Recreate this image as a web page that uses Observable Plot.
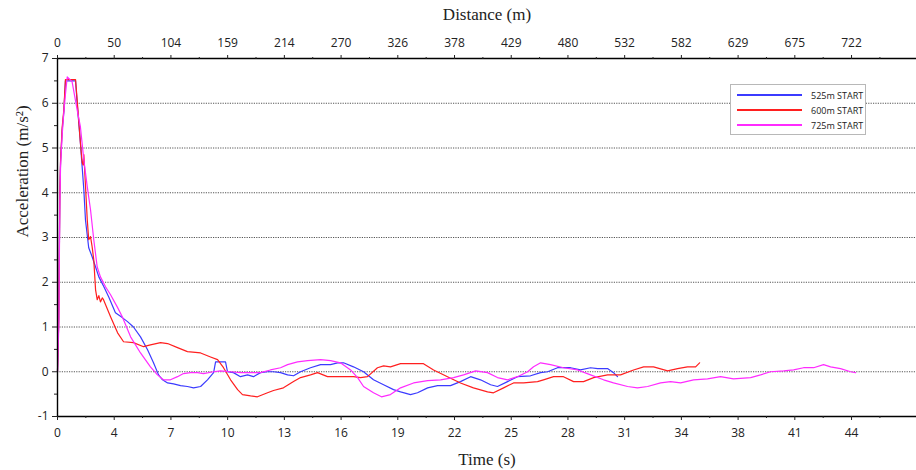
<!DOCTYPE html>
<html>
<head>
<meta charset="utf-8">
<script src="https://cdn.jsdelivr.net/npm/d3@7"></script>
<script src="https://cdn.jsdelivr.net/npm/@observablehq/plot@0.6"></script>
<style>
  html, body { margin: 0; padding: 0; background: #fff; }
  #wrap { position: relative; width: 916px; height: 470px; overflow: hidden; }
  #legend { position: absolute; left: 730px; top: 84px; width: 136px; height: 51px;
    border: 1px solid #b8b8b8; background: #fff; box-sizing: border-box;
    font-family: "Open Sans", "Noto Sans", sans-serif; font-size: 9px; color: #222; }
  .row { position: absolute; left: 6px; height: 12px; display: flex; align-items: center; }
  .sw { width: 65px; height: 0; border-top: 2px solid; margin-right: 9px; }
</style>
</head>
<body>
<div id="wrap"></div>
<script>
// ---- tick labels ----
const timeLabels = ["0","4","7","10","13","16","19","22","25","28","31","34","38","41","44"];
const distanceLabels = ["0","50","104","159","214","270","326","378","429","480","532","582","629","675","722"];
const yTickValues = [-1,0,1,2,3,4,5,6,7];
const seriesNames = ["525m START","600m START","725m START"];
const seriesColors = ["#3b3bff","#ff1f1f","#ff2bff"];

// ---- series: [time (s), acceleration (m/s^2)] ----
const s525 = [
[0,0],[0.07,1.2],[0.13,4.0],[0.17,4.7],[0.26,5.4],[0.35,5.8],[0.44,6.5],[1.00,6.5],[1.09,6.0],[1.27,5.11],
[1.46,4.06],[1.55,3.39],[1.73,2.77],[1.92,2.57],[2.11,2.34],[2.29,2.12],[2.57,1.90],[2.84,1.67],[3.21,1.32],
[3.59,1.21],[3.88,1.12],[4.21,1.00],[4.60,0.78],[4.99,0.49],[5.32,0.20],[5.60,-0.07],[5.82,-0.18],[6.10,-0.25],
[6.43,-0.27],[6.82,-0.31],[7.20,-0.33],[7.54,-0.36],[7.93,-0.33],[8.31,-0.18],[8.65,-0.02],[8.76,0.22],[9.31,0.22],
[9.42,0],[9.75,-0.02],[10.14,-0.11],[10.53,-0.07],[10.86,-0.11],[11.25,-0.02],[11.64,0],[11.97,0],[12.36,-0.02],
[12.75,-0.07],[13.08,-0.09],[13.47,0],[14.02,0.09],[14.58,0.16],[15.13,0.16],[15.52,0.20],[15.85,0.20],[16.40,0.11],
[16.96,0],[17.51,-0.18],[18.07,-0.29],[18.62,-0.40],[19.01,-0.45],[19.56,-0.51],[19.95,-0.47],[20.51,-0.36],
[21.06,-0.31],[21.78,-0.31],[22.33,-0.22],[22.89,-0.11],[23.44,-0.18],[24.00,-0.29],[24.38,-0.33],[24.94,-0.22],
[25.49,-0.11],[26.21,-0.09],[26.77,-0.02],[27.16,0],[27.71,0.09],[28.43,0.09],[28.98,0.04],[29.54,0.09],
[29.93,0.07],[30.48,0.07],[30.81,-0.02],[31.03,-0.11]
];
const s600 = [
[0,0],[0.07,1.16],[0.13,4.0],[0.17,4.73],[0.26,5.47],[0.35,5.85],[0.44,6.53],[1.00,6.53],[1.09,6.07],[1.27,5.11],
[1.37,4.67],[1.42,4.62],[1.46,4.85],[1.65,3.39],[1.73,2.95],[1.83,3.02],[1.92,2.79],[2.01,2.50],[2.11,1.83],
[2.20,1.61],[2.29,1.70],[2.38,1.56],[2.48,1.65],[2.55,1.61],[2.94,1.23],[3.33,0.87],[3.66,0.67],[4.21,0.65],
[4.77,0.56],[5.15,0.60],[5.71,0.65],[6.10,0.63],[6.65,0.54],[7.20,0.45],[7.93,0.42],[8.48,0.33],[8.87,0.27],
[9.20,0.09],[9.59,-0.18],[9.98,-0.40],[10.25,-0.51],[10.70,-0.54],[11.08,-0.56],[11.64,-0.47],[11.97,-0.42],
[12.52,-0.36],[13.08,-0.22],[13.47,-0.13],[14.02,-0.07],[14.41,-0.02],[14.96,-0.11],[15.68,-0.11],[16.40,-0.11],
[16.79,-0.13],[17.18,-0.11],[17.73,0.09],[18.07,0.13],[18.45,0.11],[19.01,0.18],[19.56,0.18],[20.28,0.18],
[20.84,0.04],[21.61,-0.11],[22.33,-0.25],[23.05,-0.36],[23.83,-0.45],[24.16,-0.47],[24.72,-0.36],[25.27,-0.25],
[25.83,-0.25],[26.60,-0.22],[26.93,-0.18],[27.49,-0.11],[28.04,-0.11],[28.60,-0.22],[29.15,-0.22],[29.71,-0.13],
[30.48,-0.07],[31.20,-0.07],[31.92,0.04],[32.48,0.11],[33.03,0.11],[33.81,0.02],[34.36,0.07],[34.91,0.11],
[35.36,0.11],[35.58,0.20]
];
const s725 = [
[0,0],[0.07,1.0],[0.13,3.8],[0.17,4.6],[0.26,5.3],[0.35,5.8],[0.44,6.2],[0.54,6.59],[0.81,6.48],[1.09,5.85],
[1.27,5.47],[1.46,4.73],[1.65,4.13],[1.83,3.62],[2.01,2.95],[2.20,2.34],[2.38,2.12],[2.66,1.90],[2.94,1.72],
[3.31,1.45],[3.59,1.23],[4.05,0.78],[4.60,0.42],[5.15,0.11],[5.54,-0.07],[5.87,-0.18],[6.26,-0.18],[6.65,-0.11],
[6.98,-0.04],[7.37,-0.02],[7.76,-0.02],[8.09,-0.04],[8.65,0],[9.03,0.02],[9.59,0],[10.14,-0.02],[10.70,-0.02],
[11.25,-0.02],[11.80,0.04],[12.36,0.09],[12.75,0.16],[13.30,0.22],[13.86,0.25],[14.58,0.27],[15.13,0.25],
[15.68,0.20],[16.24,0.04],[16.63,-0.13],[16.96,-0.33],[17.51,-0.47],[17.95,-0.56],[18.45,-0.51],[19.01,-0.36],
[19.73,-0.25],[20.51,-0.20],[21.23,-0.18],[21.95,-0.13],[22.50,-0.07],[23.17,0.02],[23.83,-0.02],[24.38,-0.13],
[24.94,-0.18],[25.49,-0.11],[26.05,0],[26.38,0.11],[26.77,0.20],[27.32,0.16],[28.04,0.09],[28.82,0.04],
[29.54,-0.07],[30.26,-0.18],[30.81,-0.25],[31.59,-0.33],[32.14,-0.36],[32.70,-0.33],[33.42,-0.25],[33.97,-0.22],
[34.53,-0.25],[35.25,-0.18],[36.02,-0.16],[36.74,-0.11],[37.46,-0.16],[38.41,-0.13],[38.96,-0.07],[39.51,0],
[40.24,0.02],[40.79,0.04],[41.34,0.09],[41.90,0.09],[42.45,0.16],[42.84,0.11],[43.39,0.07],[43.95,0],[44.22,-0.02]
];

const step = 44 / (timeLabels.length - 1);
const majorX = timeLabels.map((_, i) => i * step);
const minorX = majorX.map(v => v + step / 2);
const minorY = yTickValues.slice(0, -1).map(v => v + 0.5);
const gridY = yTickValues.slice(1, -1);
const xMax = 47.6;

const sans = "'Open Sans', 'Noto Sans', sans-serif";
const serif = "'Liberation Serif', 'DejaVu Serif', serif";

const lineOpts = (color) => ({x: d => d[0], y: d => d[1], stroke: color, strokeWidth: 1.2, curve: "linear"});

const chart = Plot.plot({
  width: 916, height: 470,
  marginTop: 58, marginBottom: 54, marginLeft: 57, marginRight: 0,
  style: {fontFamily: sans, fontSize: "12px", color: "#222", background: "#fff", overflow: "visible"},
  x: {domain: [0, xMax], axis: null},
  y: {domain: [-1, 7], axis: null},
  marks: [
    Plot.ruleY(gridY, {stroke: "#555", strokeWidth: 1, strokeDasharray: "1.2,1.2"}),
    Plot.line(s525, lineOpts(seriesColors[0])),
    Plot.line(s600, lineOpts(seriesColors[1])),
    Plot.line(s725, lineOpts(seriesColors[2])),
    Plot.ruleY([-1, 7], {stroke: "#000", strokeWidth: 1.4}),
    Plot.ruleX([0], {stroke: "#000", strokeWidth: 1.4}),
    Plot.axisX(majorX, {anchor: "bottom", tickSize: 4, tickPadding: 8, tickFormat: d => timeLabels[Math.round(d / step)], label: null, fontSize: 12}),
    Plot.axisX(minorX, {anchor: "bottom", tickSize: 2, tickFormat: () => "", label: null}),
    Plot.axisX(majorX, {anchor: "top", tickSize: 4, tickPadding: 8, tickFormat: d => distanceLabels[Math.round(d / step)], label: null, fontSize: 12}),
    Plot.axisX(minorX, {anchor: "top", tickSize: 2, tickFormat: () => "", label: null}),
    Plot.axisY(yTickValues, {anchor: "left", tickSize: 5, tickPadding: 4, tickFormat: d => String(d), label: null, fontSize: 12}),
    Plot.axisY(minorY, {anchor: "left", tickSize: 3, tickFormat: () => "", label: null}),
    Plot.text(["Time (s)"], {frameAnchor: "bottom", lineAnchor: "middle", dy: 43, fontFamily: serif, fontSize: 17, fill: "#222"}),
    Plot.text(["Distance (m)"], {frameAnchor: "top", lineAnchor: "middle", dy: -44, fontFamily: serif, fontSize: 17, fill: "#222"}),
    Plot.text(["Acceleration (m/s²)"], {frameAnchor: "left", dx: -35, rotate: -90, fontFamily: serif, fontSize: 17, fill: "#222"})
  ]
});

const wrap = document.getElementById("wrap");
wrap.appendChild(chart);

const legend = document.createElement("div");
legend.id = "legend";
seriesNames.forEach((name, i) => {
  const row = document.createElement("div");
  row.className = "row";
  row.style.top = (4 + i * 15) + "px";
  const sw = document.createElement("span");
  sw.className = "sw";
  sw.style.borderColor = seriesColors[i];
  const lab = document.createElement("span");
  lab.textContent = name;
  row.appendChild(sw);
  row.appendChild(lab);
  legend.appendChild(row);
});
wrap.appendChild(legend);
</script>
</body>
</html>
